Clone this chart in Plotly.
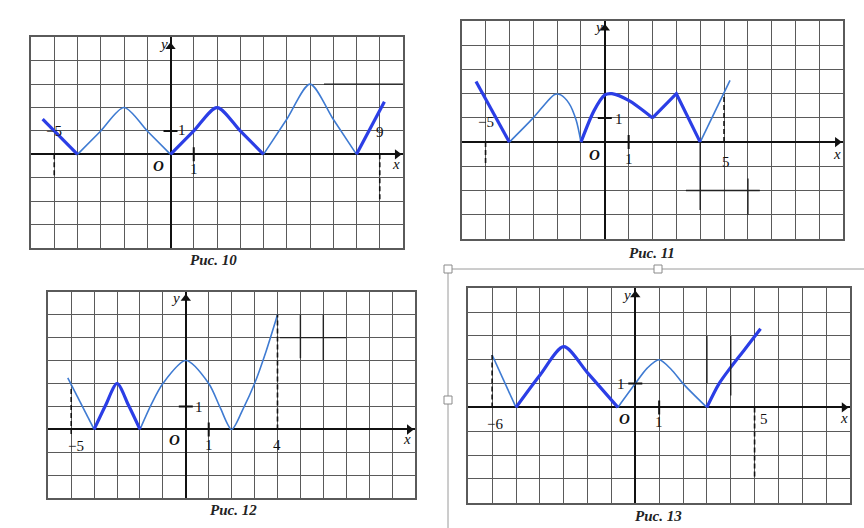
import plotly.graph_objects as go

W, H = 864, 528

# ------------------------- DATA -------------------------
# Рис. 10
r10_bold_a_x = [-5.5, -4];            r10_bold_a_y = [1.5, 0]
r10_bold_b_x = [0, 1, 2, 3, 4];       r10_bold_b_y = [0, 1, 2, 1, 0]
r10_bold_c_x = [8, 9.2];              r10_bold_c_y = [0, 2.25]
r10_thin_a_x = [-4, -3, -2, -1, 0];   r10_thin_a_y = [0, 1, 2, 1, 0]
r10_thin_b_x = [4, 5, 6, 7, 8];       r10_thin_b_y = [0, 1.5, 3, 1.5, 0]
r10_dash_x = [-5, 9];  r10_dash_y0 = [0, 0];  r10_dash_y1 = [-1, -2]

# Рис. 11
r11_bold_a_x = [-5.4, -4];                       r11_bold_a_y = [2.5, 0]
r11_bold_b_x = [-1, -0.45, 0, 0.3, 1, 2];        r11_bold_b_y = [0, 1.3, 1.95, 2, 1.72, 1]
r11_bold_c_x = [2, 3, 4];                        r11_bold_c_y = [1, 2, 0]
r11_thin_a_x = [-4, -3, -2.1, -1.85, -1.5, -1.2, -1]
r11_thin_a_y = [0, 1.0, 1.97, 1.95, 1.6, 0.9, 0]
r11_thin_b_x = [4, 5.25];                        r11_thin_b_y = [0, 2.55]
r11_dash_x = [5, -5];  r11_dash_y0 = [0, 0];  r11_dash_y1 = [1.9, -1]

# Рис. 12
r12_thin_a_x = [-5.15, -4];                      r12_thin_a_y = [2.25, 0]
r12_bold_a_x = [-4, -3.5, -3, -2.5, -2];         r12_bold_a_y = [0, 1.05, 2, 1.05, 0]
r12_thin_b_x = [-2, -1.5, -1, 0, 1, 1.5, 2, 2.5, 3, 3.5, 4]
r12_thin_b_y = [0, 1.1, 2, 3, 2, 0.95, 0, 0.9, 2, 3.4, 5]
r12_dash_x = [4, -5];  r12_dash_y0 = [0, -0.2];  r12_dash_y1 = [5, 1.9]

# Рис. 13
r13_thin_a_x = [-6, -5];                         r13_thin_a_y = [2.2, 0]
r13_bold_a_x = [-5, -4, -3, -2, -0.73]
r13_bold_a_y = [0, 1.35, 2.55, 1.45, 0]
r13_thin_b_x = [-0.73, 0, 0.5, 1, 1.5, 2, 3]
r13_thin_b_y = [0, 1, 1.65, 2, 1.6, 1, 0]
r13_bold_b_x = [3, 3.5, 4, 4.6, 5.25];           r13_bold_b_y = [0, 0.98, 1.68, 2.45, 3.3]
r13_dash_x = [-6, 5];  r13_dash_y0 = [0, 0];  r13_dash_y1 = [2.2, -3]

# stray pen strokes on the scans (x0, x1, y0, y1)
r10_marks = [(6.6, 10.1, 3, 3)]
r11_marks = [(3.4, 6.5, -2, -2), (4, 4, 0, -2.8), (6, 6, -1.5, -3)]
r12_marks = [(4.1, 7.0, 4, 4), (5, 5, 5, 3.1), (6, 6, 5, 3.0)]
r13_marks = [(3, 3, 3, 1), (4, 4, 3, 0.5)]

captions = ["Рис. 10", "Рис. 11", "Рис. 12", "Рис. 13"]

# ------------------------- LAYOUT GEOMETRY -------------------------
panels = [
    dict(box=(31, 403, 37.3, 248), xr=(-6, 10), yr=(-4, 5)),
    dict(box=(461.7, 843.3, 21, 239), xr=(-6, 10), yr=(-4, 5)),
    dict(box=(48.3, 415, 291.7, 498.3), xr=(-6, 10), yr=(-3, 6)),
    dict(box=(468.3, 850, 288.3, 502.7), xr=(-7, 9), yr=(-4, 5)),
]

BOLD = "#2b3ee6"
THIN = "#3f7bd2"
GRID = "#5a5a5a"
SERIF = "Liberation Serif"

fig = go.Figure()


def add_line(n, xs, ys, kind, smooth=False):
    ax = "" if n == 1 else str(n)
    width = 3.2 if kind == "bold" else 1.6
    color = BOLD if kind == "bold" else THIN
    fig.add_trace(go.Scatter(
        x=xs, y=ys, mode="lines", xaxis="x" + ax, yaxis="y" + ax,
        line=dict(color=color, width=width,
                  shape="spline" if smooth else "linear", smoothing=0.8),
        hoverinfo="skip", showlegend=False, cliponaxis=False))


def add_dash(n, xs, y0s, y1s):
    ax = "" if n == 1 else str(n)
    for xv, a, b in zip(xs, y0s, y1s):
        fig.add_trace(go.Scatter(
            x=[xv, xv], y=[a, b], mode="lines", xaxis="x" + ax, yaxis="y" + ax,
            line=dict(color="#111", width=1.6, dash="5px,3px"),
            hoverinfo="skip", showlegend=False))


def add_marks(n, marks):
    ax = "" if n == 1 else str(n)
    for x0, x1, y0, y1 in marks:
        fig.add_trace(go.Scatter(
            x=[x0, x1], y=[y0, y1], mode="lines", xaxis="x" + ax, yaxis="y" + ax,
            line=dict(color="#222", width=1.4),
            hoverinfo="skip", showlegend=False, cliponaxis=False))


def add_axes_deco(n, xr, yr, ytip):
    ax = "" if n == 1 else str(n)
    fig.add_trace(go.Scatter(
        x=[0, xr[1] - 0.25], y=[ytip, 0], mode="markers",
        xaxis="x" + ax, yaxis="y" + ax,
        marker=dict(symbol=["triangle-up", "triangle-right"], size=9, color="#111"),
        hoverinfo="skip", showlegend=False, cliponaxis=False))
    fig.add_trace(go.Scatter(
        x=[1, 0], y=[0, 1], mode="markers", xaxis="x" + ax, yaxis="y" + ax,
        marker=dict(symbol=["line-ns", "line-ew"], size=10,
                    line=dict(color="#111", width=2)),
        hoverinfo="skip", showlegend=False))


# Рис. 10
add_line(1, r10_thin_a_x, r10_thin_a_y, "thin", True)
add_line(1, r10_thin_b_x, r10_thin_b_y, "thin", True)
add_line(1, r10_bold_a_x, r10_bold_a_y, "bold")
add_line(1, r10_bold_b_x, r10_bold_b_y, "bold", True)
add_line(1, r10_bold_c_x, r10_bold_c_y, "bold")
add_dash(1, r10_dash_x, r10_dash_y0, r10_dash_y1)
add_marks(1, r10_marks)

# Рис. 11
add_line(2, r11_thin_a_x, r11_thin_a_y, "thin", True)
add_line(2, r11_thin_b_x, r11_thin_b_y, "thin")
add_line(2, r11_bold_a_x, r11_bold_a_y, "bold")
add_line(2, r11_bold_b_x, r11_bold_b_y, "bold", True)
add_line(2, r11_bold_c_x, r11_bold_c_y, "bold")
add_dash(2, r11_dash_x, r11_dash_y0, r11_dash_y1)
add_marks(2, r11_marks)

# Рис. 12
add_line(3, r12_thin_a_x, r12_thin_a_y, "thin")
add_line(3, r12_thin_b_x, r12_thin_b_y, "thin", True)
add_line(3, r12_bold_a_x, r12_bold_a_y, "bold", True)
add_dash(3, r12_dash_x, r12_dash_y0, r12_dash_y1)
add_marks(3, r12_marks)

# Рис. 13
add_line(4, r13_thin_a_x, r13_thin_a_y, "thin")
add_line(4, r13_thin_b_x, r13_thin_b_y, "thin", True)
add_line(4, r13_bold_a_x, r13_bold_a_y, "bold", True)
add_line(4, r13_bold_b_x, r13_bold_b_y, "bold", True)
add_dash(4, r13_dash_x, r13_dash_y0, r13_dash_y1)
add_marks(4, r13_marks)

ytips = [4.6, 4.7, 5.7, 4.72]
for i, p in enumerate(panels):
    add_axes_deco(i + 1, p["xr"], p["yr"], ytips[i])

layout = dict(
    width=W, height=H, margin=dict(l=0, r=0, t=0, b=0),
    paper_bgcolor="white", plot_bgcolor="white", showlegend=False,
)
for i, p in enumerate(panels):
    n = i + 1
    ax = "" if n == 1 else str(n)
    l, r, t, b = p["box"]
    common = dict(showgrid=True, gridcolor=GRID, gridwidth=1.4, dtick=1, tick0=0,
                  showticklabels=False, ticks="", zeroline=True,
                  zerolinecolor="#111", zerolinewidth=2,
                  showline=True, mirror=True, linecolor=GRID, linewidth=1.5,
                  fixedrange=True, layer="below traces")
    layout["xaxis" + ax] = dict(common, domain=[l / W, r / W], range=list(p["xr"]),
                                anchor="y" + ax)
    layout["yaxis" + ax] = dict(common, domain=[1 - b / H, 1 - t / H], range=list(p["yr"]),
                                anchor="x" + ax)

fig.update_layout(**layout)

# ------------------------- TEXT LABELS -------------------------
lab = [
    (1, "<i>y</i>", -0.32, 4.7), (1, "<i>x</i>", 9.7, -0.42), (1, "<b><i>O</i></b>", -0.5, -0.5),
    (1, "1", 1.0, -0.62), (1, "1", 0.5, 1.02), (1, "−5", -5.0, 1.0), (1, "9", 9.0, 0.95),
    (2, "<i>y</i>", -0.27, 4.74), (2, "<i>x</i>", 9.72, -0.47), (2, "<b><i>O</i></b>", -0.44, -0.55),
    (2, "1", 1.0, -0.68), (2, "1", 0.6, 0.96), (2, "−5", -5.0, 0.85), (2, "5", 5.1, -0.82),
    (3, "<i>y</i>", -0.44, 5.72), (3, "<i>x</i>", 9.63, -0.43), (3, "<b><i>O</i></b>", -0.51, -0.46),
    (3, "1", 1.0, -0.68), (3, "1", 0.58, 0.97), (3, "−5", -4.8, -0.72), (3, "4", 4.0, -0.68),
    (4, "<i>y</i>", -0.35, 4.73), (4, "<i>x</i>", 8.73, -0.45), (4, "<b><i>O</i></b>", -0.44, -0.49),
    (4, "1", 1.0, -0.63), (4, "1", -0.6, 1.0), (4, "−6", -5.9, -0.7), (4, "5", 5.4, -0.5),
]
for n, txt, x, y in lab:
    ax = "" if n == 1 else str(n)
    fig.add_annotation(x=x, y=y, xref="x" + ax, yref="y" + ax, text=txt, showarrow=False,
                       xanchor="center", yanchor="middle",
                       font=dict(family=SERIF, size=15, color="#111"))

cap_pos = [(213.3, 260), (651.7, 253.3), (233.3, 510), (658.3, 515.7)]
for txt, (cx, cy) in zip(captions, cap_pos):
    fig.add_annotation(x=cx / W, y=1 - cy / H, xref="paper", yref="paper",
                       text="<b><i>" + txt + "</i></b>", showarrow=False,
                       xanchor="center", yanchor="middle",
                       font=dict(family=SERIF, size=15, color="#222"))

# selection frame around the last figure (screenshot decoration)
FR = "#9a9a9a"
fig.add_shape(type="line", xref="paper", yref="paper", x0=448 / W, x1=1, y0=1 - 269 / H,
              y1=1 - 269 / H, line=dict(color=FR, width=1))
fig.add_shape(type="line", xref="paper", yref="paper", x0=448 / W, x1=448 / W, y0=0,
              y1=1 - 269 / H, line=dict(color=FR, width=1))
for hx, hy in [(448, 269), (658, 269), (448, 400)]:
    fig.add_shape(type="rect", xref="paper", yref="paper",
                  x0=(hx - 4) / W, x1=(hx + 4) / W, y0=1 - (hy + 4) / H, y1=1 - (hy - 4) / H,
                  line=dict(color="#8a8a8a", width=1), fillcolor="white")

fig.write_html("out.html", config={"displayModeBar": False},
               post_script="document.body.style.margin='0';document.body.style.overflow='hidden';")
